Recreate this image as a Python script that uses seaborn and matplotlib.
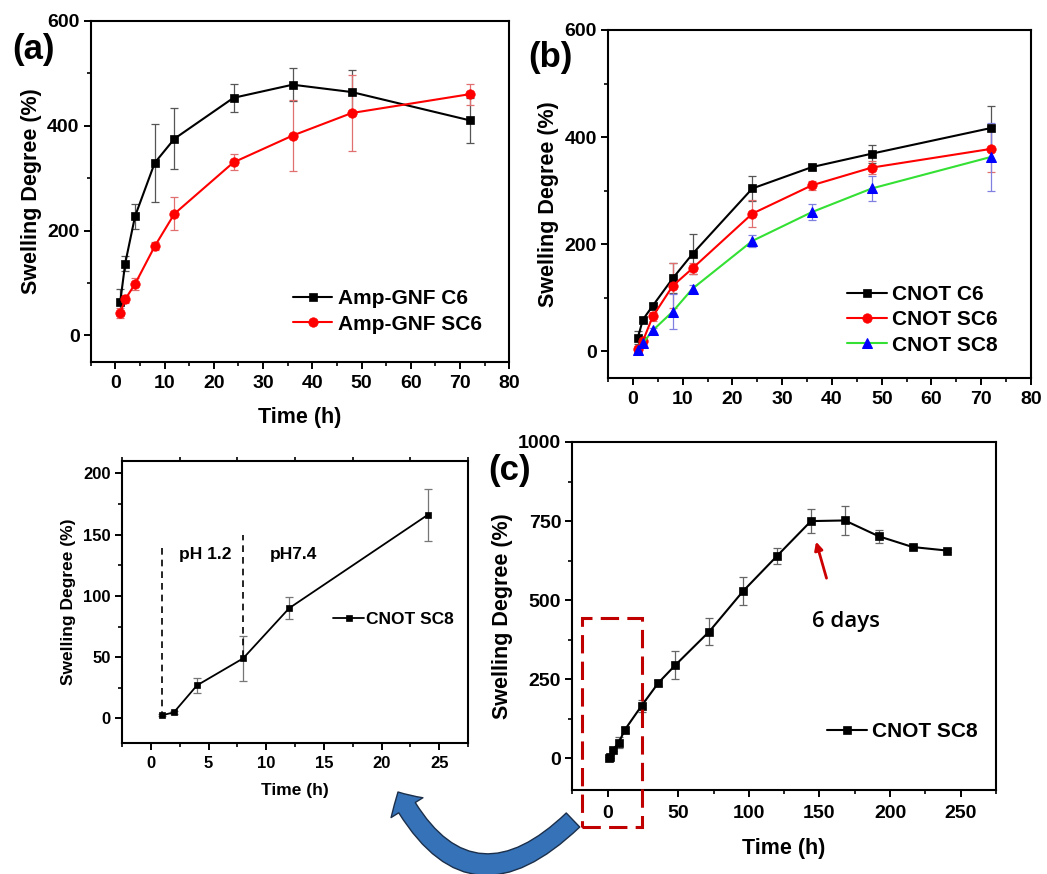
import numpy as np
import pandas as pd
import matplotlib
matplotlib.use('Agg')
import matplotlib.pyplot as plt
import seaborn as sns
from matplotlib.patches import FancyArrowPatch, Rectangle
from matplotlib.ticker import MultipleLocator

# ---------------- data ----------------
# panel (a)
t_a = [1, 2, 4, 8, 12, 24, 36, 48, 72]
c6_a = [64, 137, 227, 329, 375, 453, 478, 464, 410]
c6_a_err = [25, 15, 24, 74, 58, 27, 31, 42, 43]
sc6_a = [43, 69, 98, 170, 232, 330, 381, 424, 460]
sc6_a_err = [10, 8, 12, 8, 31, 15, 68, 72, 20]

# panel (b)
t_b = [1, 2, 4, 8, 12, 24, 36, 48, 72]
c6_b = [25, 59, 85, 136, 182, 304, 344, 369, 417]
c6_b_err = [12, 5, 5, 28, 37, 23, 5, 17, 41]
sc6_b = [5, 19, 65, 122, 155, 257, 310, 343, 378]
sc6_b_err = [5, 8, 8, 42, 10, 25, 8, 12, 43]
sc8_b = [2, 15, 39, 74, 117, 206, 260, 304, 363]
sc8_b_err = [3, 5, 5, 32, 6, 12, 15, 24, 64]

# panel (c)
t_c = [1, 2, 4, 8, 12, 24, 36, 48, 72, 96, 120, 144, 168, 192, 216, 240]
sc8_c = [2, 5, 28, 50, 89, 166, 239, 295, 401, 529, 640, 750, 752, 702, 668, 657]
sc8_c_err = [3, 5, 6, 18, 9, 20, 10, 43, 42, 44, 25, 39, 45, 20, 6, 5]

# inset (first 24 h)
t_i = [1, 2, 4, 8, 12, 24]
sc8_i = [2.7, 5, 27, 49, 90, 166]
sc8_i_err = [1, 1, 6, 18.5, 9, 21.5]

labels_a = ['Amp-GNF C6', 'Amp-GNF SC6']
labels_b = ['CNOT C6', 'CNOT SC6', 'CNOT SC8']
label_c = 'CNOT SC8'

# ---------------- style ----------------
sns.set_theme(style='ticks')
plt.rcParams['font.family'] = ['Liberation Sans', 'DejaVu Sans']
plt.rcParams['font.weight'] = 'bold'
plt.rcParams['axes.labelweight'] = 'bold'
for k in ['text.color', 'axes.labelcolor', 'xtick.color', 'ytick.color', 'axes.edgecolor']:
    plt.rcParams[k] = 'black'

W, H = 1047, 874
fig = plt.figure(figsize=(W / 100, H / 100), dpi=100)


def add_ax(l, r, t, b):
    return fig.add_axes([l / W, 1 - b / H, (r - l) / W, (b - t) / H])


ax_a = add_ax(90.7, 509.3, 20.7, 361.7)
ax_b = add_ax(608, 1031, 30, 378)
ax_i = add_ax(122, 468, 461, 743)
ax_c = add_ax(572.3, 996, 442, 790)


def style(ax, xlim, ylim, xmaj, xmin, ymaj, ymin, tfs, top_minor=False, xpad=4.5):
    ax.set_xlim(xlim)
    ax.set_ylim(ylim)
    ax.xaxis.set_major_locator(MultipleLocator(xmaj))
    ax.xaxis.set_minor_locator(MultipleLocator(xmin))
    ax.yaxis.set_major_locator(MultipleLocator(ymaj))
    ax.yaxis.set_minor_locator(MultipleLocator(ymin))
    for s in ax.spines.values():
        s.set_visible(True)
        s.set_linewidth(1.5)
        s.set_color('black')
    ax.tick_params(which='major', direction='out', length=5, width=1.4,
                   labelsize=tfs, top=False, right=False, pad=3)
    ax.tick_params(axis='x', which='major', pad=xpad)
    ax.tick_params(which='minor', direction='out', length=3, width=1.2,
                   top=top_minor, right=False)


def series(ax, x, y, err, color, marker, ms, label, ecolor, lw=1.5):
    ax.errorbar(x, y, yerr=err, fmt='none', ecolor=ecolor, elinewidth=0.9,
                capsize=3, capthick=0.9, zorder=1)
    sns.lineplot(x=x, y=y, ax=ax, color=color, marker=marker, markersize=ms,
                 markeredgecolor=color, markeredgewidth=0.5, lw=lw,
                 label=label, zorder=3, estimator=None)


# ---------- panel (a) ----------
series(ax_a, t_a, c6_a, c6_a_err, 'black', 's', 6.3, labels_a[0], '#555555')
series(ax_a, t_a, sc6_a, sc6_a_err, '#ff0000', 'o', 6.8, labels_a[1], '#e07070')
style(ax_a, (-5, 80), (-50, 600), 10, 5, 200, 100, 14)
ax_a.set_xlabel('Time (h)', fontsize=15.5, labelpad=11)
ax_a.set_ylabel('Swelling Degree (%)', fontsize=15.5, labelpad=4)
ax_a.legend(loc='center left', bbox_to_anchor=(0.483, 0.147), frameon=False,
            fontsize=15, handlelength=1.9, handletextpad=0.25, labelspacing=0.3,
            borderpad=0, borderaxespad=0)

# ---------- panel (b) ----------
series(ax_b, t_b, c6_b, c6_b_err, 'black', 's', 6.3, labels_b[0], '#555555')
series(ax_b, t_b, sc6_b, sc6_b_err, '#ff0000', 'o', 6.8, labels_b[1], '#e07070')
ax_b.errorbar(t_b, sc8_b, yerr=sc8_b_err, fmt='none', ecolor='#8080e0',
              elinewidth=0.9, capsize=3, capthick=0.9, zorder=1)
sns.lineplot(x=t_b, y=sc8_b, ax=ax_b, color='#33e033', lw=1.5, marker='^',
             markersize=7.5, markerfacecolor='#0000ff', markeredgecolor='#0000ff',
             label=labels_b[2], zorder=3, estimator=None)
style(ax_b, (-5, 80), (-50, 600), 10, 5, 200, 100, 14)
ax_b.set_xlabel('')
ax_b.set_ylabel('Swelling Degree (%)', fontsize=15.5, labelpad=4)
ax_b.legend(loc='center left', bbox_to_anchor=(0.565, 0.167), frameon=False,
            fontsize=15, handlelength=1.9, handletextpad=0.25, labelspacing=0.3,
            borderpad=0, borderaxespad=0)

# ---------- inset ----------
series(ax_i, t_i, sc8_i, sc8_i_err, 'black', 's', 4.8, label_c, '#777777', lw=1.3)
ax_i.plot([1, 1], [0, 143], color='black', lw=1.2, ls=(0, (4, 3)), zorder=2)
ax_i.plot([8, 8], [50, 149.5], color='black', lw=1.2, ls=(0, (4, 3)), zorder=2)
ax_i.text(4.7, 134, 'pH 1.2', fontsize=12.5, ha='center', va='center')
ax_i.text(12.4, 134, 'pH7.4', fontsize=12.5, ha='center', va='center')
style(ax_i, (-2.5, 27.5), (-20, 210), 5, 2.5, 50, 25, 12, top_minor=True, xpad=4)
ax_i.set_xlabel('Time (h)', fontsize=12.5, labelpad=9)
ax_i.set_ylabel('Swelling Degree (%)', fontsize=12.5, labelpad=5)
ax_i.legend(loc='center left', bbox_to_anchor=(0.61, 0.439), frameon=False,
            fontsize=12.5, handlelength=1.8, handletextpad=0.1,
            borderpad=0, borderaxespad=0)

# ---------- panel (c) ----------
series(ax_c, t_c, sc8_c, sc8_c_err, 'black', 's', 6.3, label_c, '#666666')
style(ax_c, (-25, 275), (-100, 1000), 50, 25, 250, 125, 14, xpad=6)
ax_c.set_xlabel('Time (h)', fontsize=15.5, labelpad=11)
ax_c.set_ylabel('Swelling Degree (%)', fontsize=15.5, labelpad=4)
ax_c.legend(loc='center left', bbox_to_anchor=(0.601, 0.1675), frameon=False,
            fontsize=15, handlelength=1.9, handletextpad=0.25,
            borderpad=0, borderaxespad=0)
ax_c.annotate('', xy=(147.6, 685), xytext=(155, 569.5),
              arrowprops=dict(arrowstyle='-|>', color='#cc0000', lw=2,
                              mutation_scale=12, shrinkA=0, shrinkB=0))
ax_c.text(168.6, 433, '6 days', fontsize=16, family=['Open Sans', 'DejaVu Sans'],
          fontweight='semibold', ha='center', va='center')
ax_c.add_patch(Rectangle((-18.2, -217), 42.5, 662, fill=False, ec='#c00000',
                         lw=2.2, ls=(0, (6, 2.7)), clip_on=False, zorder=5))

# ---------- panel labels ----------
fig.text(33 / W, 1 - 50 / H, '(a)', fontsize=25, fontweight='bold', ha='center', va='center')
fig.text(550 / W, 1 - 58 / H, '(b)', fontsize=25, fontweight='bold', ha='center', va='center')
fig.text(510 / W, 1 - 470 / H, '(c)', fontsize=25, fontweight='bold', ha='center', va='center')

# ---------- curved blue arrow ----------
arrow = FancyArrowPatch(posA=(573 / W, 1 - 820 / H), posB=(398 / W, 1 - 792 / H),
                        transform=fig.transFigure, connectionstyle='arc3,rad=-0.66',
                        arrowstyle='simple,head_length=13,head_width=27,tail_width=14',
                        fc='#3572b8', ec='#1b2f4a', lw=1, shrinkA=0, shrinkB=0,
                        clip_on=False, zorder=10)
fig.add_artist(arrow)

fig.savefig('out.png', dpi=100, facecolor='white')
